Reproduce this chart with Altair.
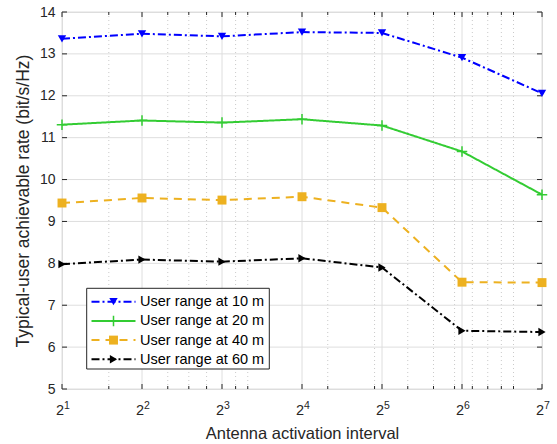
import altair as alt
import pandas as pd

# ---- data ----
x_vals = [2, 4, 8, 16, 32, 64, 128]
exponents = ["1", "2", "3", "4", "5", "6", "7"]
series_names = ["User range at 10 m", "User range at 20 m",
                "User range at 40 m", "User range at 60 m"]
rate_10m = [13.36, 13.48, 13.42, 13.52, 13.50, 12.91, 12.06]
rate_20m = [11.31, 11.41, 11.36, 11.44, 11.29, 10.67, 9.64]
rate_40m = [9.44, 9.56, 9.51, 9.59, 9.33, 7.55, 7.54]
rate_60m = [7.98, 8.09, 8.04, 8.12, 7.90, 6.39, 6.36]
y_ticks = [5, 6, 7, 8, 9, 10, 11, 12, 13, 14]
minor_x = [3, 5, 6, 7, 9, 10, 20, 30, 40, 50, 60, 70, 80, 90, 100]

# ---- styles ----
FONT = "Liberation Sans"
W, H = 480, 377
TXT_COL = "#262626"
colors = ["#0000FF", "#33CC33", "#EDB120", "#000000"]
dashes = [[8, 3, 2, 3], [1, 0], [8, 6], [8, 3, 2, 3]]
shapes = ["triangle-down", "M-1,0H1M0,-1V1", "square", "triangle-right"]
filled = [True, False, True, True]
sizes = [70, 110, 80, 70]

xscale = alt.Scale(type="log", base=2, domain=[2, 128], nice=False)
yscale = alt.Scale(domain=[5, 14], nice=False, zero=False)

XAX = alt.Axis(labels=False, ticks=False, grid=False, domain=False,
               title="Antenna activation interval", titleFont=FONT,
               titleFontSize=16.5, titleFontWeight="normal",
               titleColor=TXT_COL, titlePadding=36)
YAX = alt.Axis(values=y_ticks, grid=False, ticks=False, domain=False,
               labelFont=FONT, labelFontSize=14, labelColor=TXT_COL,
               labelPadding=7, title="Typical-user achievable rate (bit/s/Hz)",
               titleFont=FONT, titleFontSize=17.5, titleFontWeight="normal",
               titleColor=TXT_COL, titlePadding=7)


def X():
    return alt.X("x:Q", scale=xscale, axis=XAX)


def Y():
    return alt.Y("y:Q", scale=yscale, axis=YAX)


values = [rate_10m, rate_20m, rate_40m, rate_60m]
frames = []
for name, vals in zip(series_names, values):
    frames.append(pd.DataFrame({"x": x_vals, "y": vals, "series": name}))
df = pd.concat(frames, ignore_index=True)

major_df = pd.DataFrame({"x": x_vals, "e": exponents})
minor_df = pd.DataFrame({"x": minor_x})
ytick_df = pd.DataFrame({"y": y_ticks})

minor_grid = alt.Chart(minor_df).mark_rule(
    color="#bdbdbd", strokeDash=[1, 3], strokeWidth=0.8
).encode(x=X())
major_xgrid = alt.Chart(major_df).mark_rule(color="#dedede", strokeWidth=1).encode(x=X())
major_ygrid = alt.Chart(ytick_df).mark_rule(color="#dedede", strokeWidth=1).encode(y=Y())

# inward ticks
ytick_left = alt.Chart(ytick_df).mark_rule(color=TXT_COL).encode(
    y=Y(), x=alt.value(0), x2=alt.value(5))
ytick_right = alt.Chart(ytick_df).mark_rule(color=TXT_COL).encode(
    y=Y(), x=alt.value(W - 5), x2=alt.value(W))
xtick_bot = alt.Chart(major_df).mark_rule(color=TXT_COL).encode(
    x=X(), y=alt.value(H - 5), y2=alt.value(H))
xtick_top = alt.Chart(major_df).mark_rule(color=TXT_COL).encode(
    x=X(), y=alt.value(0), y2=alt.value(5))
xmin_bot = alt.Chart(minor_df).mark_rule(color=TXT_COL).encode(
    x=X(), y=alt.value(H - 3), y2=alt.value(H))
xmin_top = alt.Chart(minor_df).mark_rule(color=TXT_COL).encode(
    x=X(), y=alt.value(0), y2=alt.value(3))

# tick labels 2^k
base_lbl = alt.Chart(major_df).mark_text(
    text="2", align="right", baseline="alphabetic", dx=2, font=FONT,
    fontSize=14.5, color=TXT_COL
).encode(x=X(), y=alt.value(H + 26))
exp_lbl = alt.Chart(major_df).mark_text(
    align="left", baseline="alphabetic", dx=2, font=FONT, fontSize=10.5,
    color=TXT_COL
).encode(x=X(), y=alt.value(H + 20), text="e:N")

layers = [minor_grid, major_xgrid, major_ygrid, ytick_left, ytick_right,
          xtick_bot, xtick_top, xmin_bot, xmin_top, base_lbl, exp_lbl]

# data series
for i, name in enumerate(series_names):
    sub = df[df.series == name]
    line = alt.Chart(sub).mark_line(
        color=colors[i], strokeDash=dashes[i], strokeWidth=2
    ).encode(x=X(), y=Y())
    pt = alt.Chart(sub).mark_point(
        shape=shapes[i], filled=filled[i], color=colors[i], size=sizes[i],
        opacity=1, strokeWidth=1.5
    ).encode(x=X(), y=Y())
    layers += [line, pt]

# legend (drawn inside plot, lower-left)
LX0, LX1 = 24.7, 207.3
LY0, LY1 = 276.3, 357
ROW0, ROWSTEP = 289.7, 19.2
SEG0, SEG1, TXT = 29.5, 73.5, 78
legend_box = alt.Chart(major_df.head(1)).mark_rect(
    fill="white", stroke=TXT_COL, strokeWidth=1
).encode(x=alt.value(LX0), x2=alt.value(LX1), y=alt.value(LY0), y2=alt.value(LY1))
layers.append(legend_box)
for i, name in enumerate(series_names):
    ry = ROW0 + ROWSTEP * i
    one = pd.DataFrame({"series": [name]})
    seg = alt.Chart(one).mark_rule(
        color=colors[i], strokeDash=dashes[i], strokeWidth=2
    ).encode(x=alt.value(SEG0), x2=alt.value(SEG1), y=alt.value(ry))
    mk = alt.Chart(one).mark_point(
        shape=shapes[i], filled=filled[i], color=colors[i], size=sizes[i],
        opacity=1, strokeWidth=1.5
    ).encode(x=alt.value((SEG0 + SEG1) / 2), y=alt.value(ry))
    tx = alt.Chart(one).mark_text(
        align="left", baseline="middle", font=FONT, fontSize=14.5, color="#000000"
    ).encode(x=alt.value(TXT), y=alt.value(ry + 0.5), text="series:N")
    layers += [seg, mk, tx]

chart = alt.layer(*layers).properties(
    width=W, height=H,
    autosize=alt.AutoSizeParams(type="none"),
    padding={"left": 62, "top": 12, "right": 15, "bottom": 55},
).configure_view(stroke=TXT_COL, strokeWidth=1).configure(background="white")

chart.save("out.html", embed_options={"renderer": "svg", "actions": False})
